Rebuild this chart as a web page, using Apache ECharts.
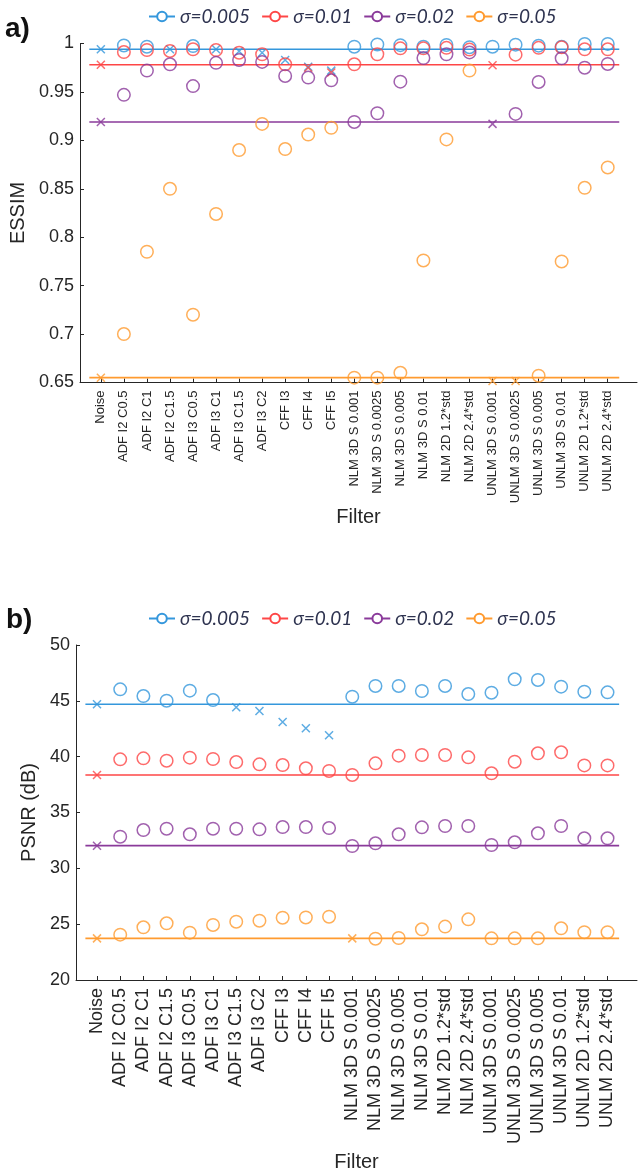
<!DOCTYPE html>
<html><head><meta charset="utf-8">
<script src="https://cdn.jsdelivr.net/npm/echarts@6/dist/echarts.min.js"></script>
<style>html,body{margin:0;padding:0;background:#fff}#c{width:644px;height:1173px}</style>
</head><body><div id="c"></div>
<script>
const categories = ['Noise','ADF I2 C0.5','ADF I2 C1','ADF I2 C1.5','ADF I3 C0.5','ADF I3 C1','ADF I3 C1.5','ADF I3 C2','CFF I3','CFF I4','CFF I5','NLM 3D S 0.001','NLM 3D S 0.0025','NLM 3D S 0.005','NLM 3D S 0.01','NLM 2D 1.2*std','NLM 2D 2.4*std','UNLM 3D S 0.001','UNLM 3D S 0.0025','UNLM 3D S 0.005','UNLM 3D S 0.01','UNLM 2D 1.2*std','UNLM 2D 2.4*std'];
const seriesNames = ['σ=0.005','σ=0.01','σ=0.02','σ=0.05'];
const essimTicks = [0.65,0.7,0.75,0.8,0.85,0.9,0.95,1];
const psnrTicks = [20,25,30,35,40,45,50];

// ESSIM values (first value = Noise, also the reference line level)
const essim005 = [0.994,0.998,0.9967,0.994,0.9974,0.994,0.992,0.9905,0.983,0.976,0.972,0.9967,0.999,0.9983,0.9967,0.9985,0.9962,0.9967,0.9988,0.9978,0.9967,0.9996,0.9996];
const essim01  = [0.978,0.9912,0.9933,0.9923,0.994,0.9933,0.9905,0.9889,0.9785,0.975,0.970,0.9785,0.9889,0.995,0.995,0.9955,0.9937,0.9775,0.9885,0.9955,0.996,0.994,0.994];
const essim02  = [0.919,0.947,0.972,0.9785,0.956,0.980,0.983,0.981,0.9665,0.9648,0.962,0.919,0.928,0.9606,0.985,0.9889,0.9908,0.917,0.9273,0.9603,0.9847,0.975,0.9789];
const essim05  = [0.655,0.700,0.785,0.850,0.720,0.824,0.890,0.917,0.891,0.906,0.913,0.655,0.655,0.660,0.776,0.901,0.972,0.6515,0.6515,0.657,0.775,0.851,0.872];
// marker type per point: o = circle, x = cross
const essimMark005 = 'xooxoxxxxxxoooooooooooo';
const essimMark01  = 'xooooooooxxooooooxooooo';
const essimMark02  = 'xooooooooooooooooxooooo';
const essimMark05  = 'xooooooooooooooooxxoooo';

// PSNR values (dB)
const psnr005 = [44.7,46.03,45.43,45.01,45.91,45.07,44.42,44.09,43.1,42.55,41.92,45.37,46.33,46.33,45.88,46.33,45.61,45.73,46.93,46.87,46.27,45.82,45.76];
const psnr01  = [38.36,39.76,39.85,39.64,39.91,39.79,39.52,39.31,39.25,38.96,38.72,38.36,39.4,40.09,40.15,40.15,39.94,38.51,39.55,40.3,40.39,39.22,39.22];
const psnr02  = [32.03,32.83,33.43,33.55,33.05,33.55,33.55,33.49,33.7,33.7,33.61,32.0,32.24,33.05,33.67,33.79,33.79,32.09,32.33,33.14,33.79,32.69,32.69];
const psnr05  = [23.73,24.06,24.72,25.08,24.24,24.93,25.22,25.31,25.58,25.6,25.67,23.73,23.7,23.76,24.54,24.78,25.43,23.73,23.73,23.73,24.63,24.28,24.28];
const psnrMark005 = 'xoooooxxxxxoooooooooooo';
const psnrMark01  = 'xoooooooooooooooooooooo';
const psnrMark02  = 'xoooooooooooooooooooooo';
const psnrMark05  = 'xooooooooooxooooooooooo';

const colors = ['#3497dc','#fe4646','#8a3a9a','#ff9b30'];
const panels = [
  {vals:[essim005,essim01,essim02,essim05], marks:[essimMark005,essimMark01,essimMark02,essimMark05]},
  {vals:[psnr005,psnr01,psnr02,psnr05], marks:[psnrMark005,psnrMark01,psnrMark02,psnrMark05]}
];

const n = categories.length;
const idx = categories.map((c,i)=>i);
const AX = '#262626';
const tickFont = 'Liberation Sans';

function xAxisCfg(g, fontSize, nameGap){
  return {type:'value', gridIndex:g, min:-0.905, max:23.27,
    name:'Filter', nameLocation:'middle', nameGap:nameGap,
    nameTextStyle:{fontFamily:tickFont, fontSize:20, color:AX},
    axisLine:{onZero:false, lineStyle:{color:AX,width:1}},
    axisTick:{inside:true,length:4,customValues:idx,lineStyle:{color:AX}},
    axisLabel:{customValues:idx, rotate:90, margin:8, formatter:v=>categories[Math.round(v)],
      fontFamily:tickFont, fontSize:fontSize, color:AX},
    splitLine:{show:false}};
}
function yAxisCfg(g, min, max, interval, name, nameGap){
  return {type:'value', gridIndex:g, min:min, max:max, interval:interval,
    name:name, nameLocation:'middle', nameGap:nameGap,
    nameTextStyle:{fontFamily:tickFont, fontSize:20, color:AX},
    axisLine:{show:true, onZero:false, lineStyle:{color:AX,width:1}},
    axisTick:{show:true,inside:true,length:4,lineStyle:{color:AX}},
    axisLabel:{fontFamily:tickFont, fontSize:18, color:AX, margin:6},
    splitLine:{show:false}};
}

const series = [];
panels.forEach((p,g)=>{
  p.vals.forEach((vals,s)=>{
    series.push({type:'line', name:seriesNames[s], xAxisIndex:g, yAxisIndex:g,
      data:[[-0.5, vals[0]],[n-0.5, vals[0]]], symbol:'emptyCircle', symbolSize:11, showSymbol:false,
      lineStyle:{color:colors[s], width:1.6}, itemStyle:{color:colors[s]}, silent:true, z:2});
  });
});
panels.forEach((p,g)=>{
  p.vals.forEach((vals,s)=>{
    const circ = [], cross = [];
    vals.forEach((v,i)=>{ (p.marks[s][i]==='x' ? cross : circ).push([i, v]); });
    series.push({type:'scatter', name:seriesNames[s], xAxisIndex:g, yAxisIndex:g, data:circ,
      symbol:'circle', symbolSize:12.5, silent:true, z:3,
      itemStyle:{color:'rgba(0,0,0,0)', borderColor:colors[s], borderWidth:1.5}});
    series.push({type:'scatter', name:seriesNames[s], xAxisIndex:g, yAxisIndex:g, data:cross,
      symbol:'path://M0,0L10,10M10,0L0,10', symbolSize:8, silent:true, z:3,
      itemStyle:{color:'rgba(0,0,0,0)', borderColor:colors[s], borderWidth:1.5}});
  });
});

const legendBase = {data:seriesNames, left:143, itemWidth:26, itemHeight:12, itemGap:11,
  textStyle:{fontFamily:'Lato', fontStyle:'italic', fontSize:19, color:'#2e3350'}, selectedMode:false};

const chart = echarts.init(document.getElementById('c'), null, {renderer:'canvas'});
chart.setOption({
  animation:false,
  backgroundColor:'#fff',
  grid:[{left:76, right:7, top:43.5, height:339},{left:76, right:7, top:645, height:335}],
  xAxis:[xAxisCfg(0, 13, 118), xAxisCfg(1, 18, 172)],
  yAxis:[yAxisCfg(0, 0.65, 1, 0.05, 'ESSIM', 52), yAxisCfg(1, 20, 50, 5, 'PSNR (dB)', 36)],
  legend:[Object.assign({top:2}, legendBase), Object.assign({top:604}, legendBase)],
  graphic:[
    {type:'text', left:5, top:15, style:{text:'a)', fontFamily:tickFont, fontWeight:'bold', fontSize:28, fill:'#111'}},
    {type:'text', left:6, top:606, style:{text:'b)', fontFamily:tickFont, fontWeight:'bold', fontSize:28, fill:'#111'}}
  ],
  series:series
});
</script>
</body></html>
